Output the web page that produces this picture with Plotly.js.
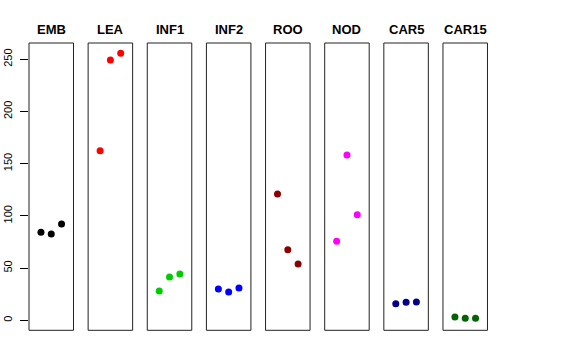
<!DOCTYPE html>
<html>
<head>
<meta charset="utf-8">
<script src="https://cdn.plot.ly/plotly-3.0.1.min.js"></script>
<style>html,body{margin:0;padding:0;background:#fff;}#chart{width:576px;height:360px;}</style>
</head>
<body>
<div id="chart"></div>
<script>
const groups = ["EMB", "LEA", "INF1", "INF2", "ROO", "NOD", "CAR5", "CAR15"];
const colors = ["#000000", "#FF0000", "#00CD00", "#0000FF", "#8B0000", "#FF00FF", "#00008B", "#006400"];
const EMB = [84.3, 82.7, 92.2];
const LEA = [162.5, 249.2, 255.7];
const INF1 = [28.0, 41.5, 44.4];
const INF2 = [30.0, 27.0, 31.0];
const ROO = [121.0, 67.6, 53.9];
const NOD = [75.7, 158.3, 101.1];
const CAR5 = [15.9, 17.2, 17.5];
const CAR15 = [3.2, 1.9, 1.9];
const seriesValues = [EMB, LEA, INF1, INF2, ROO, NOD, CAR5, CAR15];
const replicate = [-1, 0, 1];
const yTicks = [0, 50, 100, 150, 200, 250];

const W = 576, H = 360;
const left0 = 29, step = 59.14, pw = 44.5;
const topPx = 43, botPx = 330.3;

const traces = [];
const layout = {
  width: W, height: H,
  margin: {l: 0, r: 0, t: 0, b: 0},
  paper_bgcolor: "#fff", plot_bgcolor: "#fff",
  showlegend: false,
  font: {family: "Liberation Sans, Arial, sans-serif", color: "#000"},
  shapes: [], annotations: []
};
layout.yaxis = {
  domain: [1 - botPx / H, 1 - topPx / H],
  range: [-9.6, 265.6],
  tickvals: yTicks, ticktext: yTicks.map(String),
  ticks: "outside", ticklen: 8, tickwidth: 1, tickcolor: "#000",
  tickangle: -90, tickfont: {size: 11, color: "#000"},
  ticklabelstandoff: 4,
  showgrid: false, zeroline: false, showline: false,
  anchor: "x", fixedrange: true
};
groups.forEach((g, i) => {
  const ax = i === 0 ? "x" : "x" + (i + 1);
  const axName = i === 0 ? "xaxis" : "xaxis" + (i + 1);
  const l = (left0 + i * step) / W, r = (left0 + i * step + pw) / W;
  layout[axName] = {
    domain: [l, r], range: [-2.16, 2.16],
    showticklabels: false, ticks: "", showgrid: false, zeroline: false, showline: false,
    anchor: "y", fixedrange: true
  };
  traces.push({
    type: "scatter", mode: "markers",
    x: replicate, y: seriesValues[i],
    xaxis: ax, yaxis: "y",
    marker: {color: colors[i], size: 7, line: {width: 0}},
    hoverinfo: "y"
  });
  layout.shapes.push({
    type: "rect", xref: ax + " domain", yref: "y domain",
    x0: 0, x1: 1, y0: 0, y1: 1,
    line: {color: "#222", width: 1}, fillcolor: "rgba(0,0,0,0)"
  });
  layout.annotations.push({
    xref: "paper", yref: "paper",
    x: (l + r) / 2, y: 1 - 29 / H,
    xanchor: "center", yanchor: "middle",
    text: "<b>" + g + "</b>", showarrow: false,
    font: {size: 13, color: "#000"}
  });
});
Plotly.newPlot("chart", traces, layout, {displayModeBar: false, staticPlot: true});
</script>
</body>
</html>
